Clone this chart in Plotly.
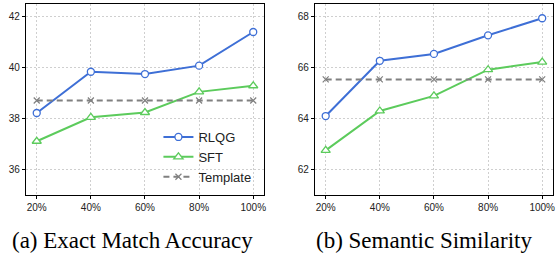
import plotly.graph_objects as go

categories = ["20%", "40%", "60%", "80%", "100%"]
em_rlqg = [38.22, 39.84, 39.75, 40.08, 41.40]
em_sft = [37.11, 38.05, 38.24, 39.05, 39.29]
em_template = [38.71, 38.71, 38.71, 38.71, 38.71]
ss_rlqg = [64.10, 66.27, 66.54, 67.27, 67.94]
ss_sft = [62.75, 64.30, 64.89, 65.92, 66.22]
ss_template = [65.54, 65.54, 65.54, 65.54, 65.54]
em_ticks = [36, 38, 40, 42]
ss_ticks = [62, 64, 66, 68]
captions = ["(a) Exact Match Accuracy", "(b) Semantic Similarity"]

W, H = 560, 253
BLUE = "#3e6fd6"
GREEN = "#5ccb5c"
GRAY = "#808080"

fig = go.Figure()

def add_panel(xa, ya, rl, sf, tp, show):
    xs = list(range(len(categories)))
    fig.add_trace(go.Scatter(x=xs, y=rl, name="RLQG", mode="lines+markers",
                             line=dict(color=BLUE, width=2),
                             marker=dict(symbol="circle", size=7, color="white",
                                         line=dict(color=BLUE, width=1.3)),
                             xaxis=xa, yaxis=ya, showlegend=show))
    fig.add_trace(go.Scatter(x=xs, y=sf, name="SFT", mode="lines+markers",
                             line=dict(color=GREEN, width=2),
                             marker=dict(symbol="triangle-up", size=8, color="white",
                                         line=dict(color=GREEN, width=1.3)),
                             xaxis=xa, yaxis=ya, showlegend=show))
    fig.add_trace(go.Scatter(x=xs, y=tp, name="Template", mode="lines+markers",
                             line=dict(color=GRAY, width=2, dash="6px,4px"),
                             marker=dict(symbol="x-thin", size=6, color=GRAY,
                                         line=dict(color=GRAY, width=1.2)),
                             xaxis=xa, yaxis=ya, showlegend=show))

add_panel("x", "y", em_rlqg, em_sft, em_template, True)
add_panel("x2", "y2", ss_rlqg, ss_sft, ss_template, False)

ydom = [1 - 195 / H, 1 - 4 / H]
axis_common = dict(showline=True, linecolor="black", linewidth=1.2, mirror=True,
                   ticks="outside", ticklen=3, tickcolor="black",
                   showgrid=True, gridcolor="#cfcfcf", griddash="2px,2px", gridwidth=1,
                   zeroline=False, tickfont=dict(family="Liberation Sans, Arial", size=10, color="#222"))

fig.update_layout(
    width=W, height=H, margin=dict(l=0, r=0, t=0, b=0),
    paper_bgcolor="white", plot_bgcolor="white",
    xaxis=dict(domain=[26 / W, 265 / W], range=[-0.2, 4.2], tickvals=list(range(5)),
               ticktext=categories, anchor="y", **axis_common),
    yaxis=dict(domain=ydom, range=[35.0, 42.5], tickvals=em_ticks, anchor="x", **axis_common),
    xaxis2=dict(domain=[316 / W, 555 / W], range=[-0.2, 4.2], tickvals=list(range(5)),
                ticktext=categories, anchor="y2", **axis_common),
    yaxis2=dict(domain=ydom, range=[61.0, 68.5], tickvals=ss_ticks, anchor="x2", **axis_common),
    legend=dict(x=159 / W, y=1 - 122 / H, xanchor="left", yanchor="top",
                bgcolor="rgba(0,0,0,0)", font=dict(family="Liberation Sans, Arial", size=13, color="#222"),
                tracegroupgap=0, itemwidth=30),
    showlegend=True,
)

for txt, cx in zip(captions, [133, 426]):
    fig.add_annotation(text=txt, x=cx / W, y=1 - 240.5 / H, xref="paper", yref="paper",
                       xanchor="center", yanchor="middle", showarrow=False,
                       font=dict(family="Liberation Serif, Times New Roman", size=23, color="black"))

fig.write_html("out.html", config={"displayModeBar": False},
               post_script="document.body.style.margin='0';document.body.style.overflow='hidden';")
